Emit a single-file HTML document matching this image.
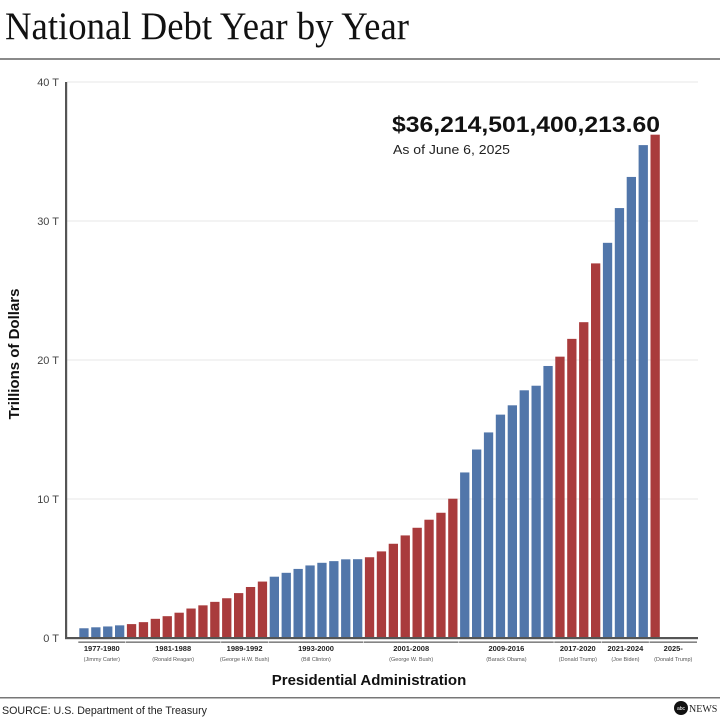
<!DOCTYPE html>
<html><head><meta charset="utf-8"><style>
html,body{margin:0;padding:0;background:#fff;}
svg{display:block;}
text{font-family:"Liberation Sans",Arial,sans-serif;}
</style></head><body>
<svg id="s" width="720" height="720" viewBox="0 0 720 720" xmlns="http://www.w3.org/2000/svg">
<text x="5" y="39" font-family="Liberation Serif" style="font-family:'Liberation Serif',serif" font-size="39" fill="#111" textLength="404" lengthAdjust="spacingAndGlyphs">National Debt Year by Year</text>
<rect x="0" y="58" width="720" height="2" fill="#8a8a8a"/>
<g stroke="#ececec" stroke-width="1.2">
<line x1="67" y1="82" x2="698" y2="82"/>
<line x1="67" y1="221" x2="698" y2="221"/>
<line x1="67" y1="360" x2="698" y2="360"/>
<line x1="67" y1="499" x2="698" y2="499"/>
</g>
<g font-size="11" fill="#444" text-anchor="end">
<text x="59" y="86">40 T</text>
<text x="59" y="225">30 T</text>
<text x="59" y="364">20 T</text>
<text x="59" y="503">10 T</text>
<text x="59" y="642">0 T</text>
</g>
<text transform="translate(19,354) rotate(-90)" text-anchor="middle" font-size="15" font-weight="bold" fill="#111">Trillions of Dollars</text>
<g id="bars"></g>
<rect x="65" y="82" width="2.2" height="557" fill="#555"/>
<rect x="65" y="637" width="633" height="2.2" fill="#555"/>
<text x="392" y="132" font-size="22.5" font-weight="bold" fill="#111" textLength="268" lengthAdjust="spacingAndGlyphs">$36,214,501,400,213.60</text>
<text x="393" y="154" font-size="13" fill="#222" textLength="117" lengthAdjust="spacingAndGlyphs">As of June 6, 2025</text>
<g id="labs" text-anchor="middle"></g>
<text x="369" y="685" text-anchor="middle" font-size="15" font-weight="bold" fill="#111">Presidential Administration</text>
<rect x="0" y="697" width="720" height="1.5" fill="#777"/>
<text x="2" y="714" font-size="11" fill="#222" textLength="205" lengthAdjust="spacingAndGlyphs">SOURCE: U.S. Department of the Treasury</text>
<circle cx="681" cy="708" r="7" fill="#111"/>
<text x="681" y="710" font-size="5" fill="#fff" text-anchor="middle">abc</text>
<text x="689" y="712" font-size="10" fill="#222" style="font-family:'Liberation Serif',serif">NEWS</text>
</svg>
<script>
var v=[0.70,0.77,0.83,0.91,1.00,1.14,1.38,1.57,1.82,2.12,2.35,2.60,2.86,3.23,3.67,4.06,4.41,4.69,4.97,5.22,5.41,5.53,5.66,5.67,5.81,6.23,6.78,7.38,7.93,8.51,9.01,10.02,11.91,13.56,14.79,16.07,16.74,17.82,18.15,19.57,20.24,21.52,22.72,26.95,28.43,30.93,33.17,35.46,36.21];
var B="#5176aa",R="#a93b3c";
var groups=[[4,B,"1977-1980","(Jimmy Carter)"],[8,R,"1981-1988","(Ronald Reagan)"],[4,R,"1989-1992","(George H.W. Bush)"],[8,B,"1993-2000","(Bill Clinton)"],[8,R,"2001-2008","(George W. Bush)"],[8,B,"2009-2016","(Barack Obama)"],[4,R,"2017-2020","(Donald Trump)"],[4,B,"2021-2024","(Joe Biden)"],[1,R,"2025-","(Donald Trump)"]];
var ns="http://www.w3.org/2000/svg",g=document.getElementById("bars"),L=document.getElementById("labs");
var x0=79.3,p=11.9,w=9.3,i=0;
function el(t,a,par,txt){var e=document.createElementNS(ns,t);for(var k in a)e.setAttribute(k,a[k]);if(txt)e.textContent=txt;par.appendChild(e);return e;}
groups.forEach(function(gr,gi){
 var start=i;
 for(var j=0;j<gr[0];j++){var h=v[i]*13.9;el("rect",{x:(x0+p*i).toFixed(2),y:(638-h).toFixed(2),width:w,height:h.toFixed(2),fill:gr[1]},g);i++;}
 var xs=x0+p*start-1,xe=x0+p*(i-1)+w+1;
 if(gi==8)xe=697;
 el("rect",{x:xs.toFixed(1),y:641.5,width:(xe-xs).toFixed(1),height:1.3,fill:"#666"},L);
 var cx=(xs+xe)/2;
 el("text",{x:cx,y:651,"font-size":"7.5","font-weight":"bold",fill:"#222"},L,gr[2]);
 el("text",{x:cx,y:661,"font-size":"5.5",fill:"#555"},L,gr[3]);
});
</script>
</body></html>
